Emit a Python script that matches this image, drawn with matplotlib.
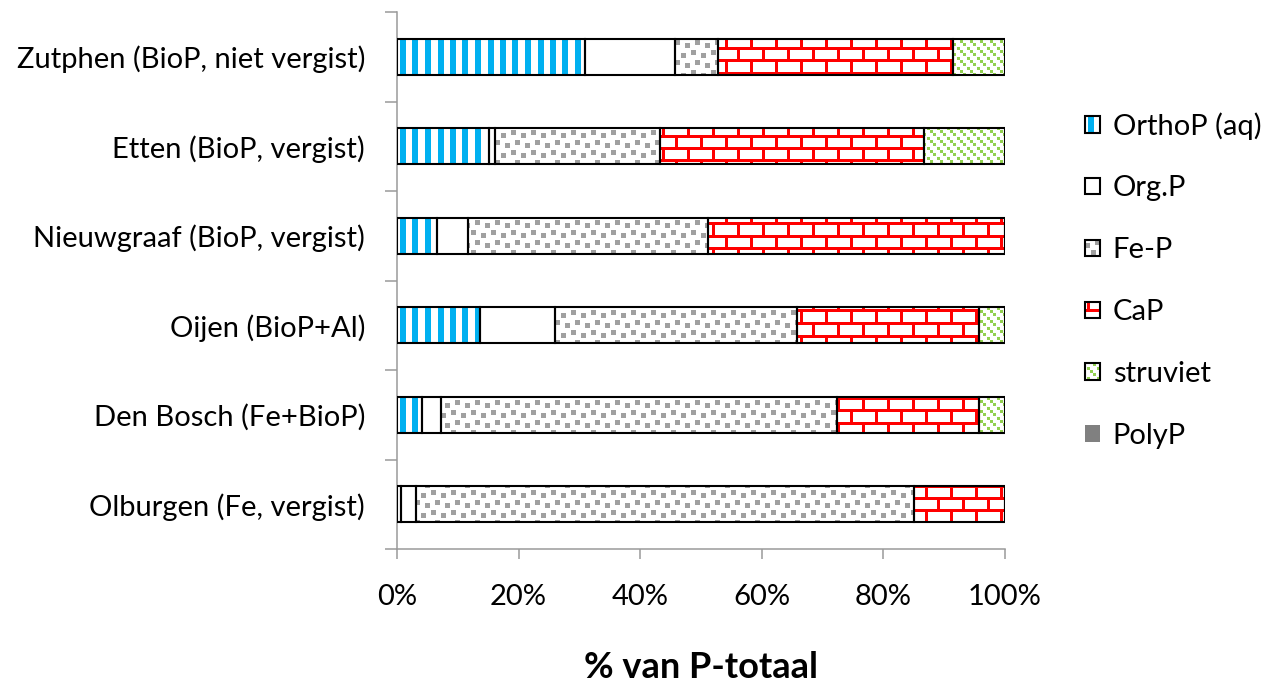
import warnings
import numpy as np
import matplotlib
matplotlib.use("Agg")
import matplotlib.pyplot as plt
from matplotlib import hatch as mhatch
from matplotlib.path import Path
from matplotlib.patches import Patch
from matplotlib.ticker import PercentFormatter

# ---------------------------------------------------------------- data
categories = [
    "Olburgen (Fe, vergist)",
    "Den Bosch (Fe+BioP)",
    "Oijen (BioP+Al)",
    "Nieuwgraaf (BioP, vergist)",
    "Etten (BioP, vergist)",
    "Zutphen (BioP, niet vergist)",
]
series_names = ["OrthoP (aq)", "Org.P", "Fe-P", "CaP", "struviet", "PolyP"]

orthop_aq = [0.7, 4.1, 13.7, 6.5, 15.2, 31.0]
org_p = [2.4, 3.1, 12.3, 5.1, 1.0, 14.7]
fe_p = [81.9, 65.1, 39.8, 39.5, 27.0, 7.1]
ca_p = [15.0, 23.5, 30.0, 48.9, 43.4, 38.7]
struviet = [0.0, 4.2, 4.2, 0.0, 13.4, 8.5]
poly_p = [0.0, 0.0, 0.0, 0.0, 0.0, 0.0]

x_ticks = [0, 20, 40, 60, 80, 100]
x_title = "% van P-totaal"

# ------------------------------------------------------ fill patterns
# The hatch cell is one inch, i.e. 100 px at dpi 100, so the shapes
# below are laid out on a 100 x 100 pixel grid.
class _RectTile:
    char = ""

    @staticmethod
    def rects():
        return []

    def __init__(self, hatch, density):
        rects = self.rects() if (hatch and self.char in hatch) else []
        polys = []
        for (x, y, w, h) in rects:
            x, y, w, h = (x % 100) / 100, (y % 100) / 100, w / 100, h / 100
            for dx in (0.0, -1.0):
                for dy in (0.0, -1.0):
                    x0, y0 = x + dx, y + dy
                    if x0 < 1 and y0 < 1 and x0 + w > 0 and y0 + h > 0:
                        polys.append((x0, y0, w, h))
        self.polys = polys
        self.num_vertices = 5 * len(polys)

    def set_vertices_and_codes(self, vertices, codes):
        for i, (x, y, w, h) in enumerate(self.polys):
            vertices[5 * i:5 * i + 5] = [(x, y), (x + w, y), (x + w, y + h),
                                         (x, y + h), (x, y)]
            codes[5 * i] = Path.MOVETO
            codes[5 * i + 1:5 * i + 4] = Path.LINETO
            codes[5 * i + 4] = Path.CLOSEPOLY


class StripeTile(_RectTile):
    """Wide vertical stripes."""
    char = "S"

    @staticmethod
    def rects():
        return [(round(i * 12.5), 0, 6, 100) for i in range(8)]


class BrickTile(_RectTile):
    """Horizontal brick wall."""
    char = "B"

    @staticmethod
    def rects():
        out = []
        for j in range(8):
            y0 = round(j * 12.5)
            y1 = round((j + 1) * 12.5)
            out.append((0, y0, 100, 3))
            shift = 12 if j % 2 else 0
            for k in range(4):
                out.append((k * 25 + shift, y0, 3, y1 - y0))
        return out


class ConfettiTile(_RectTile):
    """Scattered small squares."""
    char = "C"

    @staticmethod
    def rects():
        base = [(1, 2), (11, 5), (5, 12), (15, 15)]
        out = []
        for ti in range(5):
            for tj in range(5):
                for (bx, by) in base:
                    out.append((ti * 20 + bx, tj * 20 + by, 5, 5))
        return out


class DashDiagonalTile(_RectTile):
    """Downward diagonals built from small squares."""
    char = "D"

    @staticmethod
    def rects():
        out = []
        for d in range(10):
            for s in range(30):
                t = round(s * 100 / 30)
                out.append((d * 10 + t, 97 - t, 3, 3))
        return out


mhatch._hatch_types.extend([StripeTile, BrickTile, ConfettiTile, DashDiagonalTile])
warnings.filterwarnings("ignore", message=".*hatch must consist.*")

# ------------------------------------------------------------ styling
plt.rcParams["font.family"] = ["Lato", "DejaVu Sans"]
plt.rcParams["hatch.linewidth"] = 0.0

AXIS_GREY = "#9a9a9a"
TEXT_SIZE = 21
series_style = [
    # hatch, hatch colour, face colour, outline width
    ("S", "#00B0F0", "white", 1.5),
    (None, "black", "white", 1.5),
    ("C", "#A0A0A0", "white", 1.5),
    ("B", "#FF0000", "white", 1.5),
    ("D", "#92D050", "white", 1.5),
    (None, "#808080", "#808080", 0.0),
]
series_values = [orthop_aq, org_p, fe_p, ca_p, struviet, poly_p]

fig = plt.figure(figsize=(12.72, 6.84), dpi=100)
ax = fig.add_axes([397 / 1272, 1 - 549 / 684, 608 / 1272, 537 / 684])

ypos = np.arange(len(categories))
left = np.zeros(len(categories))
handles = []
for name, vals, (hatch, hcol, face, lw) in zip(series_names, series_values, series_style):
    vals = np.asarray(vals, dtype=float)
    ax.barh(ypos, vals, left=left, height=0.4, color=face, edgecolor=hcol,
            linewidth=0, hatch=hatch, zorder=2)
    if lw > 0:
        ax.barh(ypos, vals, left=left, height=0.4, fill=False,
                edgecolor="black", linewidth=lw, zorder=3)
        handles.append((Patch(facecolor=face, edgecolor=hcol, hatch=hatch, linewidth=0),
                        Patch(fill=False, edgecolor="black", linewidth=lw)))
    else:
        handles.append(Patch(facecolor=face, edgecolor="none"))
    left += vals

ax.set_xlim(0, 100)
ax.set_ylim(-0.5, len(categories) - 0.5)
for side in ("top", "right"):
    ax.spines[side].set_visible(False)
for side in ("left", "bottom"):
    ax.spines[side].set_color(AXIS_GREY)
    ax.spines[side].set_linewidth(1.1)

ax.set_yticks(ypos, categories)
ax.set_yticks(np.arange(-0.5, len(categories)), minor=True)
ax.tick_params(axis="y", which="major", length=0, pad=23, labelsize=TEXT_SIZE)
ax.tick_params(axis="y", which="minor", length=8.6, width=1.1, color=AXIS_GREY,
               direction="out")

ax.set_xticks(x_ticks)
ax.xaxis.set_major_formatter(PercentFormatter(100, decimals=0))
ax.tick_params(axis="x", which="major", length=7, width=1.1, color=AXIS_GREY,
               direction="out", pad=18, labelsize=TEXT_SIZE)
ax.set_xlabel(x_title, fontsize=26, fontweight="bold", labelpad=30)

fig.legend(handles, series_names, loc="upper left",
           bbox_to_anchor=(1085 / 1272, 1 - 112 / 684), frameon=False,
           fontsize=TEXT_SIZE, handlelength=0.5, handleheight=0.5,
           handletextpad=0.45, labelspacing=1.23, borderpad=0, borderaxespad=0)

fig.savefig("out.png", dpi=100)
